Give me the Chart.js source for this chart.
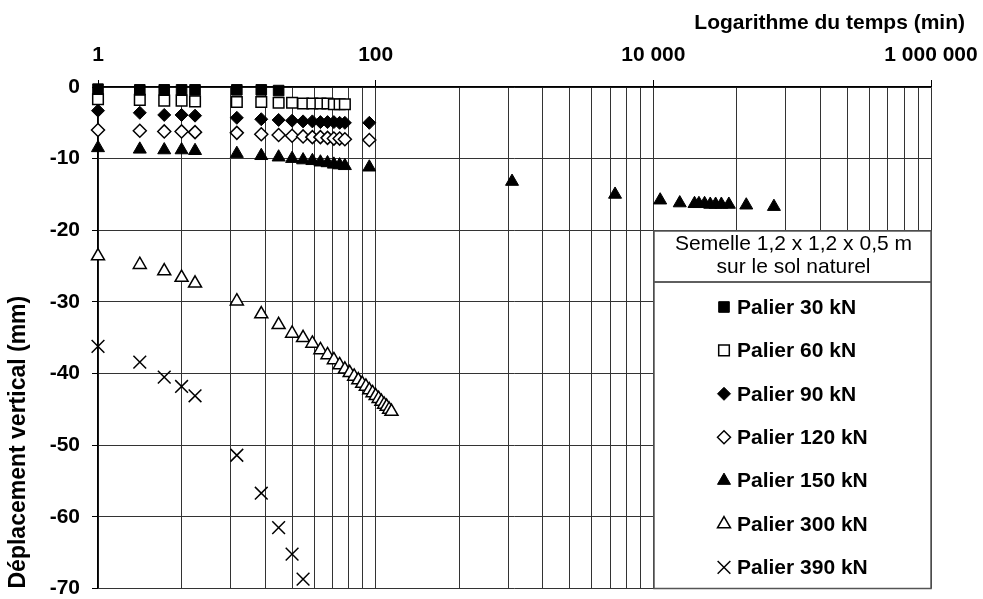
<!DOCTYPE html>
<html>
<head>
<meta charset="utf-8">
<script src="https://cdn.jsdelivr.net/npm/chart.js@4.4.1/dist/chart.umd.min.js"></script>
<style>
  html, body { margin: 0; padding: 0; background: #fff; }
  #wrap { width: 983px; height: 599px; }
</style>
</head>
<body>
<div id="wrap"><canvas id="chart" width="983" height="599"></canvas></div>
<script>
// temps en minutes, tassements en mm
const temps30 = [1, 2, 3, 4, 5, 10, 15, 20];
const palier30 = [-0.3, -0.4, -0.4, -0.4, -0.4, -0.4, -0.4, -0.5];
const temps60 = [1, 2, 3, 4, 5, 10, 15, 20, 25, 30, 35, 40, 45, 50, 55, 60];
const palier60 = [-1.7, -1.8, -1.9, -1.9, -2.0, -2.1, -2.1, -2.2, -2.2, -2.3, -2.3, -2.3, -2.3, -2.4, -2.4, -2.4];
const temps90 = [1, 2, 3, 4, 5, 10, 15, 20, 25, 30, 35, 40, 45, 50, 55, 60, 90];
const palier90 = [-3.3, -3.6, -3.9, -3.9, -4.0, -4.3, -4.5, -4.6, -4.7, -4.8, -4.8, -4.9, -4.9, -4.9, -5.0, -5.0, -5.0];
const palier120 = [-6.0, -6.1, -6.2, -6.2, -6.3, -6.4, -6.6, -6.7, -6.8, -6.9, -7.0, -7.0, -7.1, -7.2, -7.2, -7.3, -7.4];
const temps150 = [1, 2, 3, 4, 5, 10, 15, 20, 25, 30, 35, 40, 45, 50, 55, 60, 90,
  960, 5300, 11200, 15500, 19800, 21300, 23400, 25700, 28100, 30900, 35000, 46700, 73900];
const palier150 = [-8.5, -8.7, -8.8, -8.8, -8.9, -9.3, -9.6, -9.8, -10.0, -10.2, -10.3, -10.5, -10.6, -10.8, -10.9, -11.0, -11.2,
  -13.2, -15.0, -15.8, -16.2, -16.3, -16.3, -16.3, -16.4, -16.4, -16.4, -16.4, -16.5, -16.7];
const temps300 = [1, 2, 3, 4, 5, 10, 15, 20, 25, 30, 35, 40, 45, 50, 55, 60, 65, 70, 75, 80,
  85, 90, 95, 100, 105, 110, 115, 120, 125, 130];
const palier300 = [-23.6, -24.8, -25.7, -26.6, -27.4, -29.9, -31.7, -33.2, -34.4, -35.0, -35.8, -36.7, -37.4, -38.1, -38.8, -39.4, -39.9, -40.4, -40.9, -41.4,
  -41.8, -42.3, -42.7, -43.1, -43.5, -43.9, -44.3, -44.6, -45.0, -45.3];
const temps390 = [1, 2, 3, 4, 5, 10, 15, 20, 25, 30];
const palier390 = [-36.2, -38.4, -40.5, -41.8, -43.1, -51.4, -56.7, -61.5, -65.2, -68.7];

const majorTicks = [1, 100, 10000, 1000000];
const tickLabelsX = ['1', '100', '10 000', '1 000 000'];
const legendTitle = ['Semelle 1,2 x 1,2 x 0,5 m', 'sur le sol naturel'];
const xTitle = 'Logarithme du temps (min)';
const yTitle = 'Déplacement vertical (mm)';

// axe log en base 100 : quadrillage secondaire a k^2 x 100^n
const gridTicks = [];
for (let n = 0; n < 3; n++) {
  for (let k = 1; k < 10; k++) gridTicks.push(k * k * Math.pow(100, n));
}
gridTicks.push(1000000);

const FONT = 'Liberation Sans';

function serie(label, xs, ys, style, fill, r, bw) {
  return {
    label: label,
    data: xs.map((x, i) => ({ x: x, y: ys[i] })),
    pointStyle: style,
    pointRadius: r,
    pointHoverRadius: r,
    pointBackgroundColor: fill,
    pointBorderColor: '#000',
    pointBorderWidth: bw,
    showLine: false,
    clip: false
  };
}

const legendBox = {
  id: 'legendBox',
  afterDraw(chart) {
    const ctx = chart.ctx, a = chart.chartArea;
    const left = 654, top = 231, sep = 282, right = a.right, bottom = a.bottom;
    ctx.save();
    ctx.fillStyle = '#fff';
    ctx.fillRect(left, top, right - left, bottom - top);
    ctx.strokeStyle = '#555';
    ctx.lineWidth = 1.5;
    ctx.strokeRect(left, top, right - left, sep - top);
    ctx.strokeRect(left, sep, right - left, bottom - sep);
    ctx.fillStyle = '#000';
    ctx.textAlign = 'center';
    ctx.textBaseline = 'middle';
    ctx.font = '21px "' + FONT + '"';
    legendTitle.forEach((t, i) => ctx.fillText(t, (left + right) / 2 + 1, 244 + i * 23.5));
    ctx.font = 'bold 21px "' + FONT + '"';
    ctx.textAlign = 'left';
    chart.data.datasets.forEach((ds, i) => {
      const y = 307 + i * 43.4;
      ctx.fillStyle = ds.pointBackgroundColor;
      ctx.strokeStyle = ds.pointBorderColor;
      ctx.lineWidth = ds.pointBorderWidth;
      Chart.helpers.drawPoint(ctx, { pointStyle: ds.pointStyle, radius: ds.pointRadius, rotation: 0, borderWidth: ds.pointBorderWidth }, 724, y);
      ctx.fillStyle = '#000';
      ctx.fillText(ds.label, 737, y + 1);
    });
    ctx.restore();
  }
};

const topTitle = {
  id: 'topTitle',
  afterDraw(chart) {
    const ctx = chart.ctx;
    ctx.save();
    ctx.fillStyle = '#000';
    ctx.font = 'bold 21px "' + FONT + '"';
    ctx.textAlign = 'right';
    ctx.textBaseline = 'middle';
    ctx.fillText(xTitle, 965, 23);
    ctx.restore();
  }
};

new Chart(document.getElementById('chart'), {
  type: 'scatter',
  data: {
    datasets: [
      serie('Palier 30 kN', temps30, palier30, 'rect', '#000', 7.5, 1),
      serie('Palier 60 kN', temps60, palier60, 'rect', '#fff', 7.5, 1.5),
      serie('Palier 90 kN', temps90, palier90, 'rectRot', '#000', 6.5, 1),
      serie('Palier 120 kN', temps90, palier120, 'rectRot', '#fff', 6.5, 1.5),
      serie('Palier 150 kN', temps150, palier150, 'triangle', '#000', 7.5, 1),
      serie('Palier 300 kN', temps300, palier300, 'triangle', '#fff', 7.5, 1.5),
      serie('Palier 390 kN', temps390, palier390, 'crossRot', '#000', 9, 1.5)
    ]
  },
  options: {
    responsive: false,
    animation: false,
    layout: { padding: { left: 0, right: 52, top: 0, bottom: 8 } },
    plugins: {
      legend: { display: false },
      tooltip: { enabled: false }
    },
    scales: {
      x: {
        type: 'logarithmic',
        position: 'top',
        min: 1,
        max: 1000000,
        afterBuildTicks: s => { s.ticks = gridTicks.map(v => ({ value: v })); },
        afterFit: s => { s.height = 87; s.paddingLeft = 0; s.paddingRight = 0; },
        ticks: {
          autoSkip: false,
          maxRotation: 0,
          padding: 12,
          color: '#000',
          font: { family: FONT, size: 21, weight: 'bold' },
          callback: v => {
            const i = majorTicks.indexOf(v);
            return i < 0 ? '' : tickLabelsX[i];
          }
        },
        grid: {
          color: '#333',
          lineWidth: 1,
          tickLength: 7,
          tickColor: c => (c.tick && majorTicks.includes(c.tick.value)) ? '#000' : 'rgba(0,0,0,0)'
        },
        border: { color: '#000', width: 1.5 }
      },
      y: {
        min: -70,
        max: 0,
        afterFit: s => { s.width = 98; s.paddingTop = 0; s.paddingBottom = 0; },
        ticks: {
          stepSize: 10,
          padding: 12,
          color: '#000',
          font: { family: FONT, size: 21, weight: 'bold' },
          callback: v => String(v)
        },
        grid: { color: '#333', lineWidth: 1, tickLength: 6, tickColor: '#000' },
        border: { color: '#000', width: 1.5 },
        title: {
          display: true,
          text: yTitle,
          align: 'start',
          color: '#000',
          font: { family: FONT, size: 23, weight: 'bold' },
          padding: { top: 5, bottom: 0 }
        }
      }
    }
  },
  plugins: [legendBox, topTitle]
});
</script>
</body>
</html>
